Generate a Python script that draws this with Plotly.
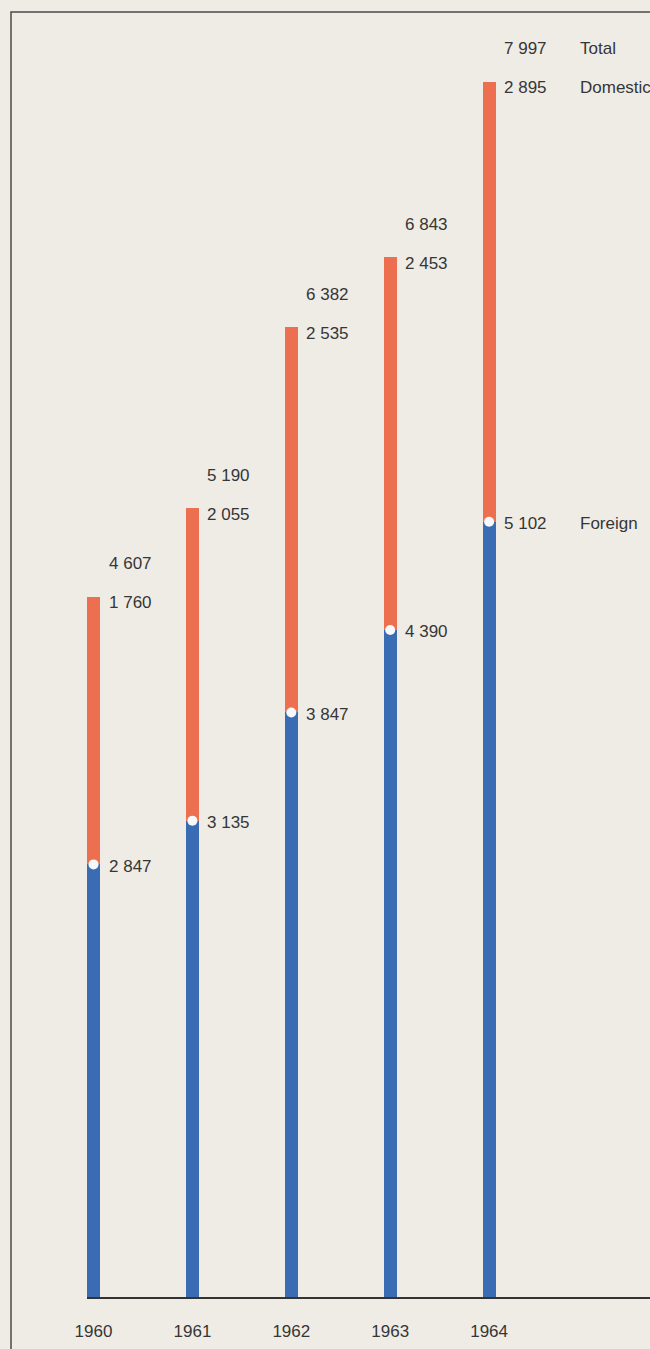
import plotly.graph_objects as go

years = [1960, 1961, 1962, 1963, 1964]
year_labels = ["1960", "1961", "1962", "1963", "1964"]
foreign = [2847, 3135, 3847, 4390, 5102]
domestic = [1760, 2055, 2535, 2453, 2895]
total = [4607, 5190, 6382, 6843, 7997]

def fmt(v):
    return f"{v:,}".replace(",", " ")

ORANGE = "#EC6F4F"
BLUE = "#3A6CB4"
TXT = "#363636"
BG = "#EFECE6"
FONT = "Liberation Sans"
FS = 17

fig = go.Figure()
fig.add_trace(go.Bar(x=years, y=foreign, marker=dict(color=BLUE, line=dict(width=0)),
                     width=0.131, name="Foreign", hoverinfo="skip"))
fig.add_trace(go.Bar(x=years, y=domestic, marker=dict(color=ORANGE, line=dict(width=0)),
                     width=0.131, name="Domestic", hoverinfo="skip"))
fig.add_trace(go.Scatter(x=years, y=foreign, mode="markers",
                         marker=dict(color="#f6f8fa", size=10, line=dict(width=0)),
                         hoverinfo="skip", cliponaxis=False))

ann = []
for i, yr in enumerate(years):
    ann.append(dict(x=yr, y=total[i], text=fmt(total[i]), xanchor="left", yanchor="middle",
                    xshift=13, yshift=33, showarrow=False))
    ann.append(dict(x=yr, y=total[i], text=fmt(domestic[i]), xanchor="left", yanchor="middle",
                    xshift=13, yshift=-6, showarrow=False))
    ann.append(dict(x=yr, y=foreign[i], text=fmt(foreign[i]), xanchor="left", yanchor="middle",
                    xshift=13, yshift=-2, showarrow=False))
ann.append(dict(x=years[-1], y=total[-1], text="Total", xanchor="left", yanchor="middle",
                xshift=89, yshift=33, showarrow=False))
ann.append(dict(x=years[-1], y=total[-1], text="Domestic", xanchor="left", yanchor="middle",
                xshift=89, yshift=-6, showarrow=False))
ann.append(dict(x=years[-1], y=foreign[-1], text="Foreign", xanchor="left", yanchor="middle",
                xshift=89, yshift=-2, showarrow=False))
for a in ann:
    a["font"] = dict(family=FONT, size=FS, color=TXT)
    a["xref"] = "x"
    a["yref"] = "y"

# border (paper coords relative to plot area: left px 87, width 563, height 1297)
L = (11 - 87) / 563
T = (1297 - 12) / 1297
B = -60 / 1297
fig.add_shape(type="path", xref="paper", yref="paper",
              path=f"M {L},{B} L {L},{T} L 1.05,{T}",
              line=dict(color="#4a4a4a", width=1.5))

fig.update_layout(
    width=650, height=1349,
    margin=dict(l=87, r=0, t=0, b=52),
    paper_bgcolor=BG, plot_bgcolor=BG,
    barmode="stack", showlegend=False,
    annotations=ann,
    xaxis=dict(range=[1959.934, 1965.627], tickvals=years, ticktext=year_labels,
               showgrid=False, zeroline=False, showline=True, linecolor="#333333", linewidth=2,
               ticks="", ticklabelstandoff=18,
               tickfont=dict(family=FONT, size=FS, color=TXT), fixedrange=True),
    yaxis=dict(range=[0, 8536], visible=False, showgrid=False, zeroline=False, fixedrange=True),
)

fig.write_html("out.html")
